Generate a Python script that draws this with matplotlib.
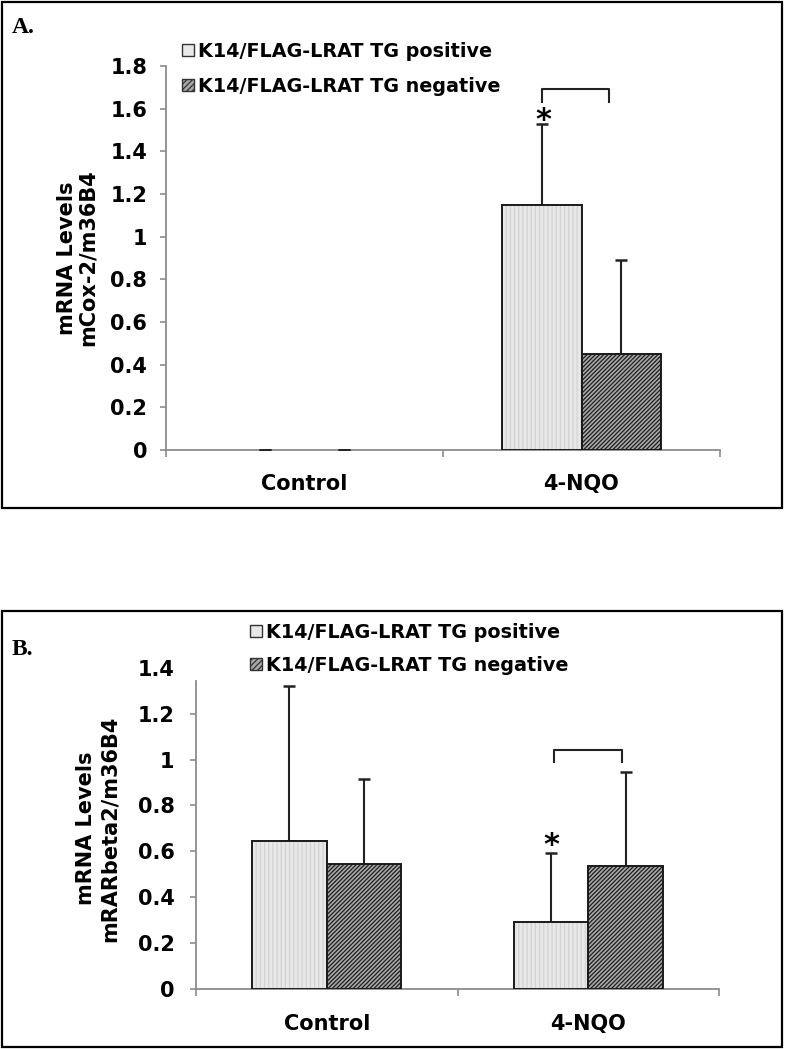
import matplotlib.pyplot as plt
import matplotlib.patches as mpatches
import numpy as np

plt.rcParams['font.family'] = ['DejaVu Sans']
plt.rcParams['hatch.linewidth'] = 0.9

groups = ['Control', '4-NQO']
series = ['K14/FLAG-LRAT TG positive', 'K14/FLAG-LRAT TG negative']

# panel A: mCox-2 / m36B4
cox_pos = [0.001, 1.15]
cox_pos_err = [0.001, 0.38]
cox_neg = [0.001, 0.45]
cox_neg_err = [0.001, 0.44]

# panel B: mRARbeta2 / m36B4
rar_pos = [0.645, 0.292]
rar_pos_err = [0.677, 0.30]
rar_neg = [0.545, 0.535]
rar_neg_err = [0.37, 0.41]

# significance marks: bracket (x0, x1, leg bottom, top) and star (x, y)
cox_bracket = [0.856, 1.099, 1.63, 1.69]
cox_star = [0.862, 1.545]
rar_bracket = [0.869, 1.129, 0.99, 1.043]
rar_star = [0.86, 0.625]

W, H = 785, 1049
fig = plt.figure(figsize=(W / 100, H / 100), dpi=100)

POS_FACE = '#e8e8e8'
NEG_FACE = '#a8a8a8'
EDGE = '#1a1a1a'
AXIS_GRAY = '#8c8c8c'
bw = 1 / 3.5  # excel gap width 150%


def px_box(left, top, right, bottom):
    return [left / W, 1 - bottom / H, (right - left) / W, (bottom - top) / H]


def frame(top, bottom):
    fig.patches.append(mpatches.Rectangle((2 / W, 1 - bottom / H), 780 / W, (bottom - top) / H,
                                          transform=fig.transFigure, fill=False,
                                          edgecolor='black', linewidth=1.6))


def draw_panel(ax, pos, pos_err, neg, neg_err, ylim, yticks, ylabel, bracket, star,
               ylabel_x, linesp, ypad, xpad, spine_top):
    x = np.arange(len(groups))
    xp, xn = x - bw / 2, x + bw / 2
    # near-zero bars get no outline (excel draws nothing there)
    lw_pos = [1.4 if v > 0.01 else 0 for v in pos]
    lw_neg = [1.4 if v > 0.01 else 0 for v in neg]
    # fills + hatch (cover the lower caps), then outlines
    ax.bar(xp, pos, bw, color=POS_FACE, edgecolor='#d2d2d2', hatch='||||', linewidth=0, zorder=2.7)
    ax.bar(xn, neg, bw, color=NEG_FACE, edgecolor='#1e1e1e', hatch='////////', linewidth=0, zorder=2.7)
    ax.bar(xp, pos, bw, fill=False, edgecolor=EDGE, linewidth=lw_pos, zorder=3)
    ax.bar(xn, neg, bw, fill=False, edgecolor=EDGE, linewidth=lw_neg, zorder=3)
    zeros = np.zeros(len(groups))
    ax.errorbar(xp, pos, yerr=[zeros, pos_err], fmt='none', ecolor='#222222',
                elinewidth=1.5, capsize=4, capthick=1.8, zorder=2.6)
    ax.errorbar(xn, neg, yerr=[zeros, neg_err], fmt='none', ecolor='#222222',
                elinewidth=1.5, capsize=4, capthick=1.8, zorder=2.6)

    x0, x1, yb, yt = bracket
    ax.plot([x0, x0, x1, x1], [yb, yt, yt, yb], color='#222222', lw=1.5, clip_on=False)
    ax.text(star[0], star[1], '*', ha='center', va='center', fontsize=22, fontweight='bold')

    ax.set_xlim(-0.5, len(groups) - 0.5)
    ax.set_ylim(*ylim)
    ax.set_yticks(yticks)
    ax.set_yticklabels([('%g' % t) for t in yticks])
    ax.set_xticks(x)
    ax.set_xticklabels(groups)
    ax.set_xticks(np.arange(len(groups) + 1) - 0.5, minor=True)
    ax.tick_params(axis='x', which='major', length=0, pad=xpad, labelsize=15)
    ax.tick_params(axis='x', which='minor', length=5, width=1.2, color=AXIS_GRAY, direction='out')
    ax.tick_params(axis='y', length=4.5, width=1.2, color=AXIS_GRAY, pad=ypad, labelsize=15)
    for lab in ax.get_xticklabels() + ax.get_yticklabels():
        lab.set_fontweight('bold')
    for s in ['top', 'right']:
        ax.spines[s].set_visible(False)
    for s in ['left', 'bottom']:
        ax.spines[s].set_color(AXIS_GRAY)
        ax.spines[s].set_linewidth(1.3)
    ax.spines['left'].set_bounds(0, spine_top)
    if spine_top < ylim[1]:
        ax.yaxis.get_major_ticks()[-1].tick1line.set_visible(False)
    ax.text(ylabel_x, 0.5, ylabel, transform=ax.transAxes, rotation=90, ha='center',
            va='center', fontsize=15, fontweight='bold', linespacing=linesp)


def add_legend(ax, left, top, spacing):
    handles = [mpatches.Patch(facecolor=POS_FACE, edgecolor='#333333', linewidth=1.0),
               mpatches.Patch(facecolor=NEG_FACE, edgecolor='#333333', linewidth=1.0, hatch='//////')]
    ax.legend(handles, series, loc='upper left', bbox_to_anchor=(left / W, 1 - top / H),
              bbox_transform=fig.transFigure, frameon=False, borderpad=0, borderaxespad=0,
              handlelength=0.62, handleheight=0.62, handletextpad=0.2,
              labelspacing=spacing, prop={'size': 13.8, 'weight': 'bold'})


# ---- panel A ----
frame(2, 508)
axA = fig.add_axes(px_box(166, 66, 720, 450))
draw_panel(axA, cox_pos, cox_pos_err, cox_neg, cox_neg_err, (0, 1.8),
           [0, 0.2, 0.4, 0.6, 0.8, 1, 1.2, 1.4, 1.6, 1.8],
           'mRNA Levels\nmCox-2/m36B4', cox_bracket, cox_star, -0.16, 1.08, 9, 17, 1.8)
add_legend(axA, 182, 42, 0.82)
fig.text(12 / W, 1 - 33 / H, 'A.', family='Liberation Serif', fontweight='bold', fontsize=17,
         va='baseline')

# ---- panel B ----
frame(611, 1047)
axB = fig.add_axes(px_box(196, 667.7, 719, 989))
draw_panel(axB, rar_pos, rar_pos_err, rar_neg, rar_neg_err, (0, 1.4),
           [0, 0.2, 0.4, 0.6, 0.8, 1, 1.2, 1.4],
           'mRNA Levels\nmRARbeta2/m36B4', rar_bracket, rar_star, -0.188, 1.25, 11, 18, 1.34)
add_legend(axB, 250, 623, 0.72)
fig.text(12 / W, 1 - 655 / H, 'B.', family='Liberation Serif', fontweight='bold', fontsize=17,
         va='baseline')

fig.savefig('out.png', dpi=100)
